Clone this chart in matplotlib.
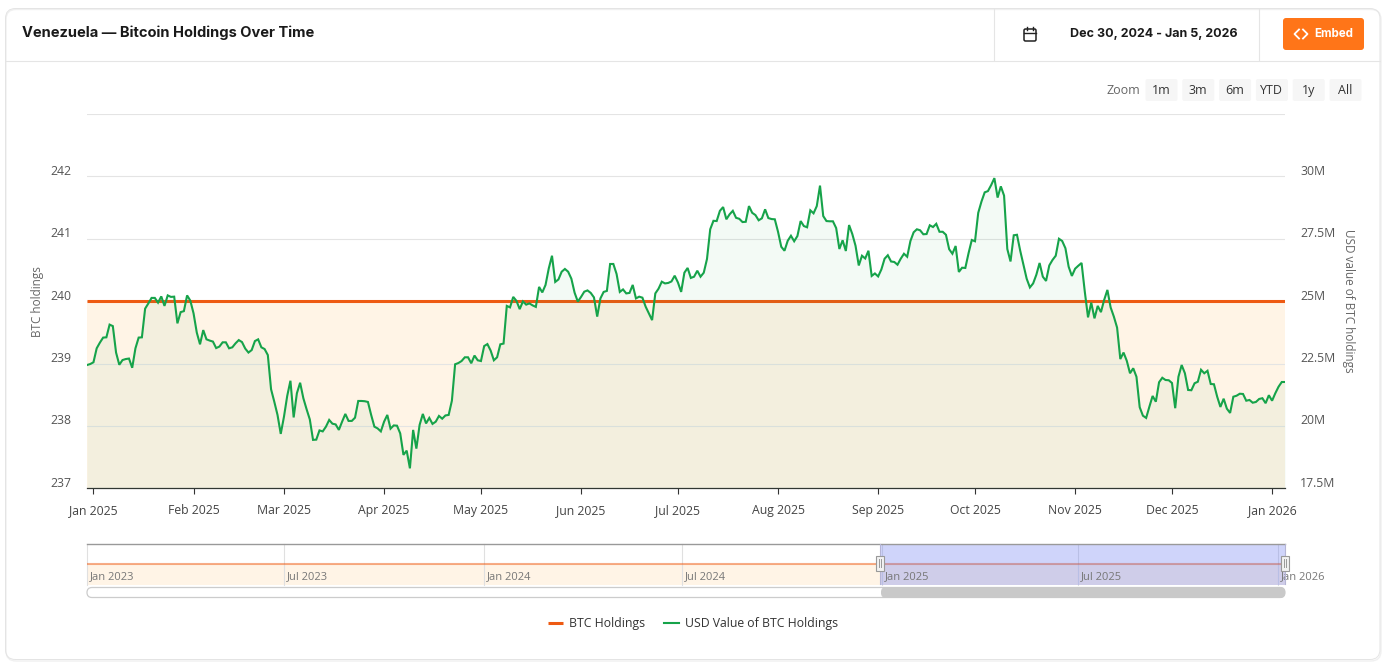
import matplotlib
matplotlib.use("Agg")
import matplotlib.pyplot as plt
import matplotlib.dates as mdates
import pandas as pd
from matplotlib.patches import FancyBboxPatch, Rectangle
from matplotlib.transforms import ScaledTranslation

plt.rcParams['font.family'] = ['Open Sans', 'DejaVu Sans']

TITLE = "Venezuela — Bitcoin Holdings Over Time"
DATE_RANGE = "Dec 30, 2024 - Jan 5, 2026"
ZOOM_BUTTONS = ["1m", "3m", "6m", "YTD", "1y", "All"]
START_DATE = "2024-12-30"
BTC_LEVEL = 240
BTC_TICKS = [237, 238, 239, 240, 241, 242, 243]
BTC_TICK_LABELS = ["237", "238", "239", "240", "241", "242", ""]
USD_TICKS = [17.5, 20, 22.5, 25, 27.5, 30]
USD_TICK_LABELS = ["17.5M", "20M", "22.5M", "25M", "27.5M", "30M"]
MONTHS = ["2025-01-01", "2025-02-01", "2025-03-01", "2025-04-01", "2025-05-01", "2025-06-01", "2025-07-01",
          "2025-08-01", "2025-09-01", "2025-10-01", "2025-11-01", "2025-12-01", "2026-01-01"]
MONTH_LABELS = ["Jan 2025", "Feb 2025", "Mar 2025", "Apr 2025", "May 2025", "Jun 2025", "Jul 2025",
                "Aug 2025", "Sep 2025", "Oct 2025", "Nov 2025", "Dec 2025", "Jan 2026"]
NAV_START = "2023-01-01"
NAV_END = "2026-01-07"
NAV_TICKS = ["2023-01-01", "2023-07-01", "2024-01-01", "2024-07-01", "2025-01-01", "2025-07-01", "2026-01-01"]
NAV_LABELS = ["Jan 2023", "Jul 2023", "Jan 2024", "Jul 2024", "Jan 2025", "Jul 2025", "Jan 2026"]

# USD value of the holdings, millions, one value per day
usd_value = [
    22.44, 22.48, 22.55, 23.11, 23.34, 23.54, 23.55, 24.06, 24.00, 22.94,
    22.45, 22.64, 22.68, 22.70, 22.33, 23.11, 23.54, 23.55, 24.70, 24.91,
    25.13, 25.13, 24.94, 25.19, 24.81, 25.23, 25.17, 25.18, 24.11, 24.56,
    24.60, 25.23, 25.02, 24.51, 23.74, 23.27, 23.84, 23.47, 23.42, 23.38,
    23.12, 23.18, 23.35, 23.35, 23.11, 23.15, 23.31, 23.44, 23.36, 23.10,
    22.94, 23.04, 23.40, 23.47, 23.15, 23.08, 22.84, 21.47, 20.97, 20.44,
    19.68, 20.37, 21.20, 21.81, 20.34, 21.31, 21.73, 21.11, 20.67, 20.26,
    19.44, 19.45, 19.82, 19.78, 19.97, 20.24, 20.09, 20.06, 19.84, 20.17,
    20.48, 20.20, 20.20, 20.33, 21.00, 21.00, 20.99, 20.96, 20.44, 19.97,
    19.90, 19.78, 20.17, 20.44, 19.89, 20.02, 20.01, 19.70, 18.84, 19.01,
    18.30, 19.84, 19.09, 20.04, 20.48, 20.10, 20.32, 20.08, 20.17, 20.40,
    20.29, 20.42, 20.44, 21.01, 22.47, 22.52, 22.60, 22.75, 22.75, 22.51,
    22.82, 22.63, 22.60, 23.20, 23.28, 23.02, 22.63, 22.75, 23.27, 23.30,
    24.81, 24.75, 25.17, 25.01, 24.68, 24.99, 24.86, 24.91, 24.83, 24.77,
    25.57, 25.35, 25.65, 26.31, 26.82, 25.77, 25.87, 26.18, 26.29, 26.18,
    25.90, 25.34, 24.98, 25.17, 25.38, 25.43, 25.33, 25.15, 24.38, 25.11,
    25.37, 25.41, 26.49, 26.49, 26.09, 25.37, 25.47, 25.31, 25.33, 25.65,
    25.11, 25.18, 25.14, 24.78, 24.51, 24.24, 25.31, 25.50, 25.78, 25.71,
    25.73, 25.79, 26.02, 25.75, 25.37, 26.14, 26.33, 25.93, 25.98, 26.22,
    25.98, 26.14, 26.69, 27.88, 28.22, 28.21, 28.62, 28.77, 28.28, 28.48,
    28.62, 28.34, 28.30, 28.17, 28.18, 28.81, 28.54, 28.45, 28.24, 28.32,
    28.68, 28.33, 28.29, 28.28, 27.78, 27.18, 27.02, 27.42, 27.62, 27.40,
    27.61, 28.21, 28.01, 27.96, 28.64, 28.52, 28.81, 29.63, 28.41, 28.21,
    28.20, 28.20, 27.93, 27.09, 27.44, 27.01, 28.05, 27.69, 27.22, 26.43,
    26.82, 26.71, 27.02, 26.01, 26.11, 25.99, 26.27, 26.70, 26.84, 26.59,
    26.57, 26.46, 26.70, 26.90, 26.78, 27.41, 27.76, 27.88, 27.84, 27.68,
    27.69, 28.04, 27.97, 28.10, 27.78, 27.78, 27.66, 27.08, 26.90, 27.21,
    26.17, 26.34, 26.33, 26.92, 27.45, 27.40, 28.54, 28.99, 29.36, 29.41,
    29.65, 29.93, 29.15, 29.60, 29.23, 27.09, 26.59, 27.64, 27.66, 27.02,
    26.45, 25.90, 25.55, 25.71, 26.06, 26.53, 25.98, 25.81, 26.43, 26.65,
    26.82, 27.50, 27.41, 27.12, 26.38, 26.01, 26.30, 26.42, 26.53, 25.38,
    24.35, 24.94, 24.31, 24.81, 24.56, 25.05, 25.45, 24.75, 24.38, 23.94,
    22.68, 22.94, 22.61, 22.11, 22.31, 21.97, 20.75, 20.41, 20.32, 20.77,
    21.20, 20.97, 21.75, 21.93, 21.84, 21.83, 21.72, 20.71, 21.97, 22.44,
    22.11, 21.44, 21.43, 21.71, 21.77, 22.25, 22.11, 22.21, 21.68, 21.67,
    21.17, 20.76, 21.09, 20.69, 20.52, 21.17, 21.21, 21.29, 21.28, 21.01,
    21.04, 20.93, 20.96, 21.08, 21.11, 20.91, 21.23, 21.01, 21.31, 21.57,
    21.76, 21.76,
]

ORANGE, GREEN = "#EE5A12", "#16A34A"
W, H = 1386, 668
fig = plt.figure(figsize=(W / 100, H / 100), dpi=100, facecolor="white")
lift = ScaledTranslation(0, 0.065, fig.dpi_scale_trans)


def place(x0, y0, x1, y1, **kw):
    return fig.add_axes([x0 / W, 1 - y1 / H, (x1 - x0) / W, (y1 - y0) / H], **kw)


dates = pd.date_range(START_DATE, periods=len(usd_value), freq="D")
btc = [BTC_LEVEL] * len(dates)

# main chart
ax = place(87, 114, 1285, 488.3, zorder=2)
ax.patch.set_visible(False)
ax.fill_between(dates, btc, BTC_TICKS[0], color="#FFF4E6", lw=0, zorder=1)
btc_line, = ax.plot(dates, btc, color=ORANGE, lw=2.2, label="BTC Holdings", zorder=3, solid_capstyle="butt")
ax.set_xlim(dates[0], dates[-1])
ax.set_ylim(BTC_TICKS[0], BTC_TICKS[-1])
ax.set_yticks(BTC_TICKS, BTC_TICK_LABELS)
ax.set_axisbelow(False)
ax.grid(axis="y", color="#E4E4E4", lw=0.8)
ax.set_xticks(pd.to_datetime(MONTHS), MONTH_LABELS)
ax.tick_params(axis="x", length=4.5, width=0.8, color="#333333", labelcolor="#444444", labelsize=8.8, pad=7)
ax.tick_params(axis="y", length=0, labelcolor="#555555", labelsize=8.8, pad=11)
for lab in ax.get_yticklabels():
    lab.set_transform(lab.get_transform() + lift)
for s in ("top", "left", "right"):
    ax.spines[s].set_visible(False)
ax.spines["bottom"].set_color("#333333")
ax.spines["bottom"].set_linewidth(0.9)
ax.set_ylabel("BTC holdings", fontsize=8.5, color="#666666", va="center")
ax.yaxis.set_label_coords((37 - 87) / 1198, 0.5)

ax2 = ax.twinx()
ax2.patch.set_visible(False)
ax2.fill_between(dates, usd_value, USD_TICKS[0], color=GREEN, alpha=0.05, lw=0)
usd_line, = ax2.plot(dates, usd_value, color=GREEN, lw=1.5, label="USD Value of BTC Holdings", solid_joinstyle="miter")
ax2.set_ylim(USD_TICKS[0], 32.5)
ax2.set_yticks(USD_TICKS, USD_TICK_LABELS)
ax2.tick_params(axis="y", length=0, labelcolor="#555555", labelsize=8.8, pad=11)
for lab in ax2.get_yticklabels():
    lab.set_transform(lab.get_transform() + lift)
for s in ax2.spines.values():
    s.set_visible(False)
ax2.set_ylabel("USD value of BTC holdings", fontsize=8.5, color="#666666", rotation=-90, va="center")
ax2.yaxis.set_label_coords((1349 - 87) / 1198, 0.5)

# navigator
nav = place(87, 544, 1285, 584.5, zorder=2)
nav_start, nav_end = pd.Timestamp(NAV_START), pd.Timestamp(NAV_END)
nav_dates = [nav_start, nav_end]
nav_btc = [BTC_LEVEL, BTC_LEVEL]
nav.fill_between(nav_dates, nav_btc, BTC_LEVEL - 1, color="#FFF4E6", lw=0, zorder=1)
nav.plot(nav_dates, nav_btc, color=ORANGE, alpha=0.5, lw=1.5, zorder=3, solid_capstyle="butt")
nav.set_xlim(nav_start, nav_end)
nav.set_ylim(BTC_LEVEL - 1, BTC_LEVEL + 1)
nav.set_yticks([])
nav.set_xticks([])
for t, lab in zip(NAV_TICKS, NAV_LABELS):
    d = pd.Timestamp(t)
    nav.axvline(d, color="#E0E0E0", lw=0.8, zorder=2, clip_on=False)
    nav.annotate(lab, (mdates.date2num(d), BTC_LEVEL - 0.6), xytext=(2, 0), textcoords="offset points",
                 fontsize=8.0, color="#777777", va="center", ha="left", annotation_clip=False, zorder=6)
nav.axvspan(dates[0], nav_end, facecolor=(98 / 255, 115 / 255, 241 / 255, 0.3), lw=0, zorder=4)
nav.patch.set_visible(False)
for s in nav.spines.values():
    s.set_visible(False)

# page furniture, in pixel coordinates
ui = place(0, 0, W, H, zorder=5)
ui.set_xlim(0, W)
ui.set_ylim(H, 0)
ui.axis("off")


def rrect(x0, y0, x1, y1, r, **kw):
    ui.add_patch(FancyBboxPatch((x0 + r, y0 + r), x1 - x0 - 2 * r, y1 - y0 - 2 * r,
                                boxstyle=f"round,pad={r},rounding_size={r}", mutation_aspect=1, **kw))


rrect(6, 9.5, 1381, 661, 10, fc="none", ec="#F0F0F0", lw=1.0, zorder=0)
rrect(5.5, 8.5, 1380, 659.5, 10, fc="none", ec="#E4E4E4", lw=0.7, zorder=0)
ui.plot([6, 1380], [60.5, 60.5], color="#E5E5E5", lw=0.8)
ui.plot([993.5, 993.5], [9, 60], color="#E5E5E5", lw=0.8)
ui.plot([1258.5, 1258.5], [9, 60], color="#E5E5E5", lw=0.8)
ui.text(22, 32.5, TITLE, fontsize=10.55, fontweight="bold", color="#1A1A1A", va="center", family=["Inter", "DejaVu Sans"])
ui.text(1238, 34, DATE_RANGE, fontsize=9.0, fontweight="bold", color="#1A1A1A", va="center", ha="right", family=["Inter", "DejaVu Sans"])

# calendar icon
rrect(1024, 29, 1036, 41, 1.5, fc="none", ec="#222222", lw=1.1)
ui.plot([1024, 1036], [32.5, 32.5], color="#222222", lw=1.0)
ui.plot([1027, 1027], [27, 30], color="#222222", lw=1.0)
ui.plot([1033, 1033], [27, 30], color="#222222", lw=1.0)

# embed button
rrect(1283, 18, 1364, 50, 3, fc="#FF7518", ec="none")
ui.plot([1299, 1294.5, 1299], [29.5, 34, 38.5], color="white", lw=1.3)
ui.plot([1303, 1307.5, 1303], [29.5, 34, 38.5], color="white", lw=1.3)
ui.text(1333.5, 34, "Embed", fontsize=8.3, fontweight="bold", color="white", ha="center", va="center", family=["Inter", "DejaVu Sans"])

# zoom buttons
ui.text(1123, 90.5, "Zoom", fontsize=9, color="#666666", ha="center", va="center")
for i, lab in enumerate(ZOOM_BUTTONS):
    cx = 1161.5 + i * 36.8
    rrect(cx - 16, 79, cx + 16, 101, 2, fc="#F6F6F6", ec="none")
    ui.text(cx, 90.5, lab, fontsize=9, color="#333333", ha="center", va="center")

# navigator outline, handles and scrollbar
ui.plot([87, 1285], [543.5, 543.5], color="#999999", lw=1.0)
ui.plot([880, 880], [544, 584], color="#B5B5D5", lw=0.8)
ui.plot([1285, 1285], [544, 584], color="#B5B5D5", lw=0.8)
for hx in (879.5, 1285):
    ui.add_patch(Rectangle((hx - 4, 555.5), 8, 15, fc="#F2F2F2", ec="#999999", lw=0.8, zorder=6))
    ui.plot([hx - 1, hx - 1], [559, 567], color="#999999", lw=0.7, zorder=7)
    ui.plot([hx + 1, hx + 1], [559, 567], color="#999999", lw=0.7, zorder=7)
rrect(87, 587.5, 1285, 597.5, 5, fc="none", ec="#CCCCCC", lw=0.9)
rrect(881, 587, 1285, 598, 5, fc="#C9C9C9", ec="none")

fig.legend(handles=[btc_line, usd_line], loc="center", bbox_to_anchor=(693 / W, 1 - 623.5 / H), ncol=2,
           frameon=False, fontsize=8.8, handlelength=1.25, columnspacing=1.55, handletextpad=0.45, labelcolor="#333333")

fig.savefig("out.png", dpi=100, facecolor="white")
